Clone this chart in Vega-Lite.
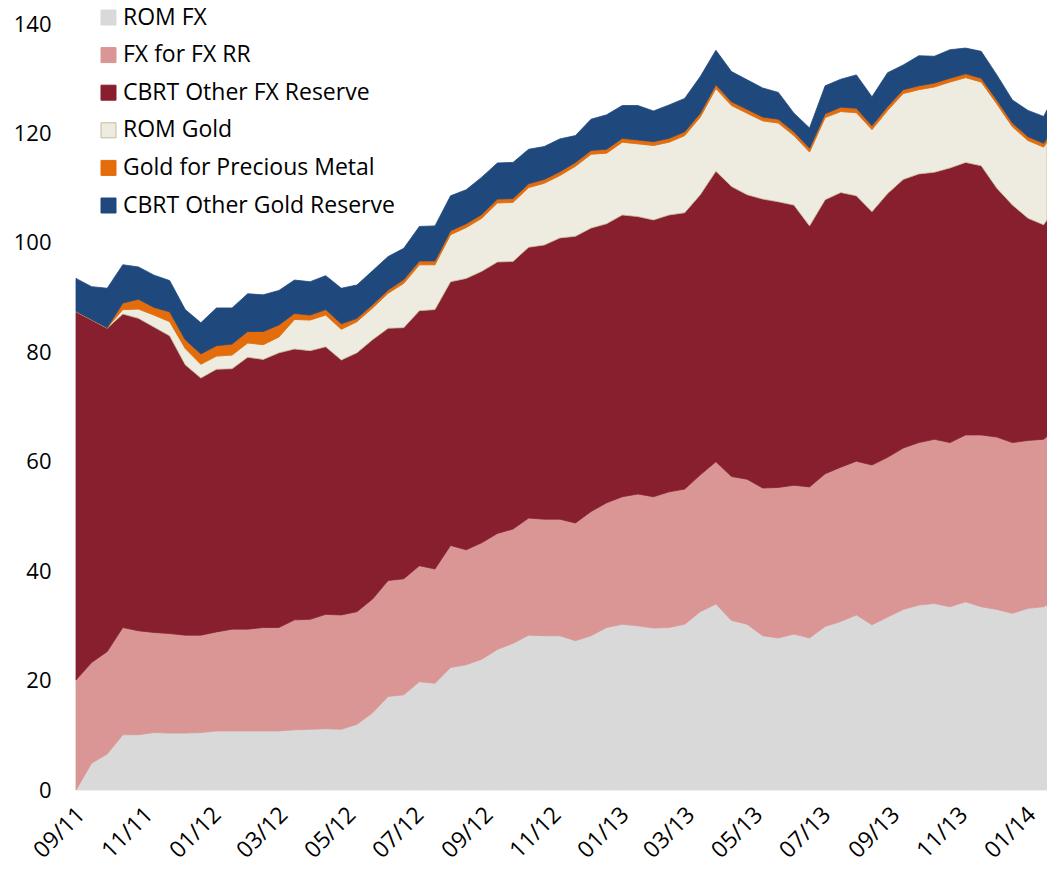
{
"$schema": "https://vega.github.io/schema/vega-lite/v6.json",
"width": 971, "height": 766,
"autosize": {"type": "none"},
"padding": {"left": 76, "top": 24, "right": 0, "bottom": 82},
"background": "white",
"config": {"view": {"stroke": null}, "font": "Open Sans",
 "legend": {"orient": "none", "legendX": 21, "legendY": -18, "title": null, "symbolType": "square", "symbolSize": 225, "labelFont": "Open Sans", "labelFontSize": 23, "labelColor": "#000000", "labelLimit": 0, "rowPadding": 13.6, "labelOffset": 3, "padding": 0, "symbolStrokeWidth": 1, "symbolOpacity": 1}},
"datasets": {"r": [
{"d":"2011-09-01","s":"ROM FX","k":0,"v":0},{"d":"2011-09-01","s":"FX for FX RR","k":1,"v":20.1},{"d":"2011-09-01","s":"CBRT Other FX Reserve","k":2,"v":67.3},{"d":"2011-09-01","s":"ROM Gold","k":3,"v":0.1},{"d":"2011-09-01","s":"Gold for Precious Metal","k":4,"v":0},{"d":"2011-09-01","s":"CBRT Other Gold Reserve","k":5,"v":6.0},
{"d":"2011-09-15","s":"ROM FX","k":0,"v":4.9},{"d":"2011-09-15","s":"FX for FX RR","k":1,"v":18.4},{"d":"2011-09-15","s":"CBRT Other FX Reserve","k":2,"v":62.6},{"d":"2011-09-15","s":"ROM Gold","k":3,"v":0.1},{"d":"2011-09-15","s":"Gold for Precious Metal","k":4,"v":0},{"d":"2011-09-15","s":"CBRT Other Gold Reserve","k":5,"v":6.0},
{"d":"2011-09-29","s":"ROM FX","k":0,"v":6.6},{"d":"2011-09-29","s":"FX for FX RR","k":1,"v":18.7},{"d":"2011-09-29","s":"CBRT Other FX Reserve","k":2,"v":59.1},{"d":"2011-09-29","s":"ROM Gold","k":3,"v":0.1},{"d":"2011-09-29","s":"Gold for Precious Metal","k":4,"v":0},{"d":"2011-09-29","s":"CBRT Other Gold Reserve","k":5,"v":7.2},
{"d":"2011-10-13","s":"ROM FX","k":0,"v":10.1},{"d":"2011-10-13","s":"FX for FX RR","k":1,"v":19.6},{"d":"2011-10-13","s":"CBRT Other FX Reserve","k":2,"v":57.3},{"d":"2011-10-13","s":"ROM Gold","k":3,"v":0.8},{"d":"2011-10-13","s":"Gold for Precious Metal","k":4,"v":1.2},{"d":"2011-10-13","s":"CBRT Other Gold Reserve","k":5,"v":7.0},
{"d":"2011-10-27","s":"ROM FX","k":0,"v":10.1},{"d":"2011-10-27","s":"FX for FX RR","k":1,"v":19.0},{"d":"2011-10-27","s":"CBRT Other FX Reserve","k":2,"v":57.1},{"d":"2011-10-27","s":"ROM Gold","k":3,"v":1.7},{"d":"2011-10-27","s":"Gold for Precious Metal","k":4,"v":1.8},{"d":"2011-10-27","s":"CBRT Other Gold Reserve","k":5,"v":5.9},
{"d":"2011-11-10","s":"ROM FX","k":0,"v":10.5},{"d":"2011-11-10","s":"FX for FX RR","k":1,"v":18.3},{"d":"2011-11-10","s":"CBRT Other FX Reserve","k":2,"v":55.8},{"d":"2011-11-10","s":"ROM Gold","k":3,"v":2.2},{"d":"2011-11-10","s":"Gold for Precious Metal","k":4,"v":1.4},{"d":"2011-11-10","s":"CBRT Other Gold Reserve","k":5,"v":5.9},
{"d":"2011-11-24","s":"ROM FX","k":0,"v":10.4},{"d":"2011-11-24","s":"FX for FX RR","k":1,"v":18.2},{"d":"2011-11-24","s":"CBRT Other FX Reserve","k":2,"v":54.4},{"d":"2011-11-24","s":"ROM Gold","k":3,"v":2.6},{"d":"2011-11-24","s":"Gold for Precious Metal","k":4,"v":1.8},{"d":"2011-11-24","s":"CBRT Other Gold Reserve","k":5,"v":5.7},
{"d":"2011-12-08","s":"ROM FX","k":0,"v":10.4},{"d":"2011-12-08","s":"FX for FX RR","k":1,"v":17.9},{"d":"2011-12-08","s":"CBRT Other FX Reserve","k":2,"v":49.4},{"d":"2011-12-08","s":"ROM Gold","k":3,"v":3.0},{"d":"2011-12-08","s":"Gold for Precious Metal","k":4,"v":1.6},{"d":"2011-12-08","s":"CBRT Other Gold Reserve","k":5,"v":5.5},
{"d":"2011-12-22","s":"ROM FX","k":0,"v":10.5},{"d":"2011-12-22","s":"FX for FX RR","k":1,"v":17.8},{"d":"2011-12-22","s":"CBRT Other FX Reserve","k":2,"v":47.0},{"d":"2011-12-22","s":"ROM Gold","k":3,"v":2.5},{"d":"2011-12-22","s":"Gold for Precious Metal","k":4,"v":1.9},{"d":"2011-12-22","s":"CBRT Other Gold Reserve","k":5,"v":5.7},
{"d":"2012-01-05","s":"ROM FX","k":0,"v":10.8},{"d":"2012-01-05","s":"FX for FX RR","k":1,"v":18.1},{"d":"2012-01-05","s":"CBRT Other FX Reserve","k":2,"v":48.0},{"d":"2012-01-05","s":"ROM Gold","k":3,"v":2.4},{"d":"2012-01-05","s":"Gold for Precious Metal","k":4,"v":1.9},{"d":"2012-01-05","s":"CBRT Other Gold Reserve","k":5,"v":6.9},
{"d":"2012-01-19","s":"ROM FX","k":0,"v":10.8},{"d":"2012-01-19","s":"FX for FX RR","k":1,"v":18.6},{"d":"2012-01-19","s":"CBRT Other FX Reserve","k":2,"v":47.6},{"d":"2012-01-19","s":"ROM Gold","k":3,"v":2.5},{"d":"2012-01-19","s":"Gold for Precious Metal","k":4,"v":2.0},{"d":"2012-01-19","s":"CBRT Other Gold Reserve","k":5,"v":6.6},
{"d":"2012-02-02","s":"ROM FX","k":0,"v":10.8},{"d":"2012-02-02","s":"FX for FX RR","k":1,"v":18.6},{"d":"2012-02-02","s":"CBRT Other FX Reserve","k":2,"v":49.7},{"d":"2012-02-02","s":"ROM Gold","k":3,"v":2.6},{"d":"2012-02-02","s":"Gold for Precious Metal","k":4,"v":2.1},{"d":"2012-02-02","s":"CBRT Other Gold Reserve","k":5,"v":6.9},
{"d":"2012-02-16","s":"ROM FX","k":0,"v":10.8},{"d":"2012-02-16","s":"FX for FX RR","k":1,"v":18.9},{"d":"2012-02-16","s":"CBRT Other FX Reserve","k":2,"v":49.0},{"d":"2012-02-16","s":"ROM Gold","k":3,"v":2.7},{"d":"2012-02-16","s":"Gold for Precious Metal","k":4,"v":2.4},{"d":"2012-02-16","s":"CBRT Other Gold Reserve","k":5,"v":6.7},
{"d":"2012-03-01","s":"ROM FX","k":0,"v":10.8},{"d":"2012-03-01","s":"FX for FX RR","k":1,"v":18.9},{"d":"2012-03-01","s":"CBRT Other FX Reserve","k":2,"v":50.2},{"d":"2012-03-01","s":"ROM Gold","k":3,"v":2.9},{"d":"2012-03-01","s":"Gold for Precious Metal","k":4,"v":2.2},{"d":"2012-03-01","s":"CBRT Other Gold Reserve","k":5,"v":6.3},
{"d":"2012-03-15","s":"ROM FX","k":0,"v":11.0},{"d":"2012-03-15","s":"FX for FX RR","k":1,"v":20.1},{"d":"2012-03-15","s":"CBRT Other FX Reserve","k":2,"v":49.5},{"d":"2012-03-15","s":"ROM Gold","k":3,"v":5.4},{"d":"2012-03-15","s":"Gold for Precious Metal","k":4,"v":1.1},{"d":"2012-03-15","s":"CBRT Other Gold Reserve","k":5,"v":6.1},
{"d":"2012-03-29","s":"ROM FX","k":0,"v":11.1},{"d":"2012-03-29","s":"FX for FX RR","k":1,"v":20.1},{"d":"2012-03-29","s":"CBRT Other FX Reserve","k":2,"v":49.1},{"d":"2012-03-29","s":"ROM Gold","k":3,"v":5.6},{"d":"2012-03-29","s":"Gold for Precious Metal","k":4,"v":0.9},{"d":"2012-03-29","s":"CBRT Other Gold Reserve","k":5,"v":6.1},
{"d":"2012-04-12","s":"ROM FX","k":0,"v":11.2},{"d":"2012-04-12","s":"FX for FX RR","k":1,"v":20.9},{"d":"2012-04-12","s":"CBRT Other FX Reserve","k":2,"v":48.9},{"d":"2012-04-12","s":"ROM Gold","k":3,"v":5.8},{"d":"2012-04-12","s":"Gold for Precious Metal","k":4,"v":1.0},{"d":"2012-04-12","s":"CBRT Other Gold Reserve","k":5,"v":6.2},
{"d":"2012-04-26","s":"ROM FX","k":0,"v":11.1},{"d":"2012-04-26","s":"FX for FX RR","k":1,"v":20.9},{"d":"2012-04-26","s":"CBRT Other FX Reserve","k":2,"v":46.6},{"d":"2012-04-26","s":"ROM Gold","k":3,"v":5.6},{"d":"2012-04-26","s":"Gold for Precious Metal","k":4,"v":1.0},{"d":"2012-04-26","s":"CBRT Other Gold Reserve","k":5,"v":6.5},
{"d":"2012-05-10","s":"ROM FX","k":0,"v":12.0},{"d":"2012-05-10","s":"FX for FX RR","k":1,"v":20.6},{"d":"2012-05-10","s":"CBRT Other FX Reserve","k":2,"v":47.3},{"d":"2012-05-10","s":"ROM Gold","k":3,"v":5.7},{"d":"2012-05-10","s":"Gold for Precious Metal","k":4,"v":0.6},{"d":"2012-05-10","s":"CBRT Other Gold Reserve","k":5,"v":6.1},
{"d":"2012-05-24","s":"ROM FX","k":0,"v":14.1},{"d":"2012-05-24","s":"FX for FX RR","k":1,"v":20.8},{"d":"2012-05-24","s":"CBRT Other FX Reserve","k":2,"v":47.4},{"d":"2012-05-24","s":"ROM Gold","k":3,"v":5.8},{"d":"2012-05-24","s":"Gold for Precious Metal","k":4,"v":0.6},{"d":"2012-05-24","s":"CBRT Other Gold Reserve","k":5,"v":6.2},
{"d":"2012-06-07","s":"ROM FX","k":0,"v":17.1},{"d":"2012-06-07","s":"FX for FX RR","k":1,"v":21.2},{"d":"2012-06-07","s":"CBRT Other FX Reserve","k":2,"v":46.1},{"d":"2012-06-07","s":"ROM Gold","k":3,"v":6.4},{"d":"2012-06-07","s":"Gold for Precious Metal","k":4,"v":0.6},{"d":"2012-06-07","s":"CBRT Other Gold Reserve","k":5,"v":6.1},
{"d":"2012-06-21","s":"ROM FX","k":0,"v":17.4},{"d":"2012-06-21","s":"FX for FX RR","k":1,"v":21.2},{"d":"2012-06-21","s":"CBRT Other FX Reserve","k":2,"v":45.9},{"d":"2012-06-21","s":"ROM Gold","k":3,"v":8.1},{"d":"2012-06-21","s":"Gold for Precious Metal","k":4,"v":0.7},{"d":"2012-06-21","s":"CBRT Other Gold Reserve","k":5,"v":5.7},
{"d":"2012-07-05","s":"ROM FX","k":0,"v":19.8},{"d":"2012-07-05","s":"FX for FX RR","k":1,"v":21.2},{"d":"2012-07-05","s":"CBRT Other FX Reserve","k":2,"v":46.6},{"d":"2012-07-05","s":"ROM Gold","k":3,"v":8.4},{"d":"2012-07-05","s":"Gold for Precious Metal","k":4,"v":0.7},{"d":"2012-07-05","s":"CBRT Other Gold Reserve","k":5,"v":6.3},
{"d":"2012-07-19","s":"ROM FX","k":0,"v":19.5},{"d":"2012-07-19","s":"FX for FX RR","k":1,"v":20.9},{"d":"2012-07-19","s":"CBRT Other FX Reserve","k":2,"v":47.4},{"d":"2012-07-19","s":"ROM Gold","k":3,"v":8.2},{"d":"2012-07-19","s":"Gold for Precious Metal","k":4,"v":0.7},{"d":"2012-07-19","s":"CBRT Other Gold Reserve","k":5,"v":6.4},
{"d":"2012-08-02","s":"ROM FX","k":0,"v":22.4},{"d":"2012-08-02","s":"FX for FX RR","k":1,"v":22.3},{"d":"2012-08-02","s":"CBRT Other FX Reserve","k":2,"v":48.2},{"d":"2012-08-02","s":"ROM Gold","k":3,"v":8.6},{"d":"2012-08-02","s":"Gold for Precious Metal","k":4,"v":0.7},{"d":"2012-08-02","s":"CBRT Other Gold Reserve","k":5,"v":6.4},
{"d":"2012-08-16","s":"ROM FX","k":0,"v":22.9},{"d":"2012-08-16","s":"FX for FX RR","k":1,"v":21.0},{"d":"2012-08-16","s":"CBRT Other FX Reserve","k":2,"v":49.6},{"d":"2012-08-16","s":"ROM Gold","k":3,"v":9.3},{"d":"2012-08-16","s":"Gold for Precious Metal","k":4,"v":0.7},{"d":"2012-08-16","s":"CBRT Other Gold Reserve","k":5,"v":6.2},
{"d":"2012-08-30","s":"ROM FX","k":0,"v":23.9},{"d":"2012-08-30","s":"FX for FX RR","k":1,"v":21.3},{"d":"2012-08-30","s":"CBRT Other FX Reserve","k":2,"v":49.6},{"d":"2012-08-30","s":"ROM Gold","k":3,"v":9.7},{"d":"2012-08-30","s":"Gold for Precious Metal","k":4,"v":0.7},{"d":"2012-08-30","s":"CBRT Other Gold Reserve","k":5,"v":6.8},
{"d":"2012-09-13","s":"ROM FX","k":0,"v":25.7},{"d":"2012-09-13","s":"FX for FX RR","k":1,"v":21.2},{"d":"2012-09-13","s":"CBRT Other FX Reserve","k":2,"v":49.6},{"d":"2012-09-13","s":"ROM Gold","k":3,"v":10.8},{"d":"2012-09-13","s":"Gold for Precious Metal","k":4,"v":0.7},{"d":"2012-09-13","s":"CBRT Other Gold Reserve","k":5,"v":6.6},
{"d":"2012-09-27","s":"ROM FX","k":0,"v":26.8},{"d":"2012-09-27","s":"FX for FX RR","k":1,"v":20.9},{"d":"2012-09-27","s":"CBRT Other FX Reserve","k":2,"v":48.9},{"d":"2012-09-27","s":"ROM Gold","k":3,"v":10.8},{"d":"2012-09-27","s":"Gold for Precious Metal","k":4,"v":0.7},{"d":"2012-09-27","s":"CBRT Other Gold Reserve","k":5,"v":6.6},
{"d":"2012-10-11","s":"ROM FX","k":0,"v":28.3},{"d":"2012-10-11","s":"FX for FX RR","k":1,"v":21.4},{"d":"2012-10-11","s":"CBRT Other FX Reserve","k":2,"v":49.5},{"d":"2012-10-11","s":"ROM Gold","k":3,"v":10.9},{"d":"2012-10-11","s":"Gold for Precious Metal","k":4,"v":0.7},{"d":"2012-10-11","s":"CBRT Other Gold Reserve","k":5,"v":6.3},
{"d":"2012-10-25","s":"ROM FX","k":0,"v":28.2},{"d":"2012-10-25","s":"FX for FX RR","k":1,"v":21.3},{"d":"2012-10-25","s":"CBRT Other FX Reserve","k":2,"v":50.1},{"d":"2012-10-25","s":"ROM Gold","k":3,"v":11.3},{"d":"2012-10-25","s":"Gold for Precious Metal","k":4,"v":0.7},{"d":"2012-10-25","s":"CBRT Other Gold Reserve","k":5,"v":6.0},
{"d":"2012-11-08","s":"ROM FX","k":0,"v":28.2},{"d":"2012-11-08","s":"FX for FX RR","k":1,"v":21.3},{"d":"2012-11-08","s":"CBRT Other FX Reserve","k":2,"v":51.4},{"d":"2012-11-08","s":"ROM Gold","k":3,"v":11.4},{"d":"2012-11-08","s":"Gold for Precious Metal","k":4,"v":0.7},{"d":"2012-11-08","s":"CBRT Other Gold Reserve","k":5,"v":6.0},
{"d":"2012-11-22","s":"ROM FX","k":0,"v":27.3},{"d":"2012-11-22","s":"FX for FX RR","k":1,"v":21.5},{"d":"2012-11-22","s":"CBRT Other FX Reserve","k":2,"v":52.4},{"d":"2012-11-22","s":"ROM Gold","k":3,"v":12.8},{"d":"2012-11-22","s":"Gold for Precious Metal","k":4,"v":0.7},{"d":"2012-11-22","s":"CBRT Other Gold Reserve","k":5,"v":4.9},
{"d":"2012-12-06","s":"ROM FX","k":0,"v":28.2},{"d":"2012-12-06","s":"FX for FX RR","k":1,"v":22.7},{"d":"2012-12-06","s":"CBRT Other FX Reserve","k":2,"v":51.8},{"d":"2012-12-06","s":"ROM Gold","k":3,"v":13.5},{"d":"2012-12-06","s":"Gold for Precious Metal","k":4,"v":0.7},{"d":"2012-12-06","s":"CBRT Other Gold Reserve","k":5,"v":5.7},
{"d":"2012-12-20","s":"ROM FX","k":0,"v":29.7},{"d":"2012-12-20","s":"FX for FX RR","k":1,"v":22.8},{"d":"2012-12-20","s":"CBRT Other FX Reserve","k":2,"v":51.0},{"d":"2012-12-20","s":"ROM Gold","k":3,"v":12.9},{"d":"2012-12-20","s":"Gold for Precious Metal","k":4,"v":0.7},{"d":"2012-12-20","s":"CBRT Other Gold Reserve","k":5,"v":6.3},
{"d":"2013-01-03","s":"ROM FX","k":0,"v":30.3},{"d":"2013-01-03","s":"FX for FX RR","k":1,"v":23.3},{"d":"2013-01-03","s":"CBRT Other FX Reserve","k":2,"v":51.5},{"d":"2013-01-03","s":"ROM Gold","k":3,"v":13.3},{"d":"2013-01-03","s":"Gold for Precious Metal","k":4,"v":0.7},{"d":"2013-01-03","s":"CBRT Other Gold Reserve","k":5,"v":6.0},
{"d":"2013-01-17","s":"ROM FX","k":0,"v":30.0},{"d":"2013-01-17","s":"FX for FX RR","k":1,"v":24.1},{"d":"2013-01-17","s":"CBRT Other FX Reserve","k":2,"v":50.7},{"d":"2013-01-17","s":"ROM Gold","k":3,"v":13.3},{"d":"2013-01-17","s":"Gold for Precious Metal","k":4,"v":0.7},{"d":"2013-01-17","s":"CBRT Other Gold Reserve","k":5,"v":6.3},
{"d":"2013-01-31","s":"ROM FX","k":0,"v":29.6},{"d":"2013-01-31","s":"FX for FX RR","k":1,"v":24.0},{"d":"2013-01-31","s":"CBRT Other FX Reserve","k":2,"v":50.6},{"d":"2013-01-31","s":"ROM Gold","k":3,"v":13.6},{"d":"2013-01-31","s":"Gold for Precious Metal","k":4,"v":0.7},{"d":"2013-01-31","s":"CBRT Other Gold Reserve","k":5,"v":5.6},
{"d":"2013-02-14","s":"ROM FX","k":0,"v":29.7},{"d":"2013-02-14","s":"FX for FX RR","k":1,"v":24.8},{"d":"2013-02-14","s":"CBRT Other FX Reserve","k":2,"v":50.6},{"d":"2013-02-14","s":"ROM Gold","k":3,"v":13.3},{"d":"2013-02-14","s":"Gold for Precious Metal","k":4,"v":0.7},{"d":"2013-02-14","s":"CBRT Other Gold Reserve","k":5,"v":6.1},
{"d":"2013-02-28","s":"ROM FX","k":0,"v":30.3},{"d":"2013-02-28","s":"FX for FX RR","k":1,"v":24.7},{"d":"2013-02-28","s":"CBRT Other FX Reserve","k":2,"v":50.5},{"d":"2013-02-28","s":"ROM Gold","k":3,"v":14.1},{"d":"2013-02-28","s":"Gold for Precious Metal","k":4,"v":0.7},{"d":"2013-02-28","s":"CBRT Other Gold Reserve","k":5,"v":6.1},
{"d":"2013-03-14","s":"ROM FX","k":0,"v":32.6},{"d":"2013-03-14","s":"FX for FX RR","k":1,"v":25.0},{"d":"2013-03-14","s":"CBRT Other FX Reserve","k":2,"v":51.2},{"d":"2013-03-14","s":"ROM Gold","k":3,"v":14.2},{"d":"2013-03-14","s":"Gold for Precious Metal","k":4,"v":0.7},{"d":"2013-03-14","s":"CBRT Other Gold Reserve","k":5,"v":6.7},
{"d":"2013-03-28","s":"ROM FX","k":0,"v":34.0},{"d":"2013-03-28","s":"FX for FX RR","k":1,"v":26.0},{"d":"2013-03-28","s":"CBRT Other FX Reserve","k":2,"v":53.1},{"d":"2013-03-28","s":"ROM Gold","k":3,"v":15.1},{"d":"2013-03-28","s":"Gold for Precious Metal","k":4,"v":0.7},{"d":"2013-03-28","s":"CBRT Other Gold Reserve","k":5,"v":6.3},
{"d":"2013-04-11","s":"ROM FX","k":0,"v":31.0},{"d":"2013-04-11","s":"FX for FX RR","k":1,"v":26.3},{"d":"2013-04-11","s":"CBRT Other FX Reserve","k":2,"v":53.0},{"d":"2013-04-11","s":"ROM Gold","k":3,"v":14.8},{"d":"2013-04-11","s":"Gold for Precious Metal","k":4,"v":0.7},{"d":"2013-04-11","s":"CBRT Other Gold Reserve","k":5,"v":5.5},
{"d":"2013-04-25","s":"ROM FX","k":0,"v":30.3},{"d":"2013-04-25","s":"FX for FX RR","k":1,"v":26.5},{"d":"2013-04-25","s":"CBRT Other FX Reserve","k":2,"v":52.0},{"d":"2013-04-25","s":"ROM Gold","k":3,"v":14.9},{"d":"2013-04-25","s":"Gold for Precious Metal","k":4,"v":0.7},{"d":"2013-04-25","s":"CBRT Other Gold Reserve","k":5,"v":5.4},
{"d":"2013-05-09","s":"ROM FX","k":0,"v":28.2},{"d":"2013-05-09","s":"FX for FX RR","k":1,"v":27.0},{"d":"2013-05-09","s":"CBRT Other FX Reserve","k":2,"v":52.8},{"d":"2013-05-09","s":"ROM Gold","k":3,"v":14.3},{"d":"2013-05-09","s":"Gold for Precious Metal","k":4,"v":0.7},{"d":"2013-05-09","s":"CBRT Other Gold Reserve","k":5,"v":5.3},
{"d":"2013-05-23","s":"ROM FX","k":0,"v":27.8},{"d":"2013-05-23","s":"FX for FX RR","k":1,"v":27.5},{"d":"2013-05-23","s":"CBRT Other FX Reserve","k":2,"v":52.2},{"d":"2013-05-23","s":"ROM Gold","k":3,"v":14.4},{"d":"2013-05-23","s":"Gold for Precious Metal","k":4,"v":0.7},{"d":"2013-05-23","s":"CBRT Other Gold Reserve","k":5,"v":4.9},
{"d":"2013-06-06","s":"ROM FX","k":0,"v":28.5},{"d":"2013-06-06","s":"FX for FX RR","k":1,"v":27.2},{"d":"2013-06-06","s":"CBRT Other FX Reserve","k":2,"v":51.2},{"d":"2013-06-06","s":"ROM Gold","k":3,"v":12.7},{"d":"2013-06-06","s":"Gold for Precious Metal","k":4,"v":0.7},{"d":"2013-06-06","s":"CBRT Other Gold Reserve","k":5,"v":3.4},
{"d":"2013-06-20","s":"ROM FX","k":0,"v":27.8},{"d":"2013-06-20","s":"FX for FX RR","k":1,"v":27.6},{"d":"2013-06-20","s":"CBRT Other FX Reserve","k":2,"v":47.7},{"d":"2013-06-20","s":"ROM Gold","k":3,"v":13.5},{"d":"2013-06-20","s":"Gold for Precious Metal","k":4,"v":0.7},{"d":"2013-06-20","s":"CBRT Other Gold Reserve","k":5,"v":3.7},
{"d":"2013-07-04","s":"ROM FX","k":0,"v":29.9},{"d":"2013-07-04","s":"FX for FX RR","k":1,"v":27.9},{"d":"2013-07-04","s":"CBRT Other FX Reserve","k":2,"v":50.1},{"d":"2013-07-04","s":"ROM Gold","k":3,"v":15.0},{"d":"2013-07-04","s":"Gold for Precious Metal","k":4,"v":0.7},{"d":"2013-07-04","s":"CBRT Other Gold Reserve","k":5,"v":5.1},
{"d":"2013-07-18","s":"ROM FX","k":0,"v":30.8},{"d":"2013-07-18","s":"FX for FX RR","k":1,"v":28.2},{"d":"2013-07-18","s":"CBRT Other FX Reserve","k":2,"v":50.2},{"d":"2013-07-18","s":"ROM Gold","k":3,"v":14.8},{"d":"2013-07-18","s":"Gold for Precious Metal","k":4,"v":0.8},{"d":"2013-07-18","s":"CBRT Other Gold Reserve","k":5,"v":5.1},
{"d":"2013-08-01","s":"ROM FX","k":0,"v":32.0},{"d":"2013-08-01","s":"FX for FX RR","k":1,"v":28.1},{"d":"2013-08-01","s":"CBRT Other FX Reserve","k":2,"v":48.5},{"d":"2013-08-01","s":"ROM Gold","k":3,"v":15.2},{"d":"2013-08-01","s":"Gold for Precious Metal","k":4,"v":0.8},{"d":"2013-08-01","s":"CBRT Other Gold Reserve","k":5,"v":6.1},
{"d":"2013-08-15","s":"ROM FX","k":0,"v":30.2},{"d":"2013-08-15","s":"FX for FX RR","k":1,"v":29.2},{"d":"2013-08-15","s":"CBRT Other FX Reserve","k":2,"v":46.3},{"d":"2013-08-15","s":"ROM Gold","k":3,"v":15.0},{"d":"2013-08-15","s":"Gold for Precious Metal","k":4,"v":0.7},{"d":"2013-08-15","s":"CBRT Other Gold Reserve","k":5,"v":5.3},
{"d":"2013-08-29","s":"ROM FX","k":0,"v":31.6},{"d":"2013-08-29","s":"FX for FX RR","k":1,"v":29.2},{"d":"2013-08-29","s":"CBRT Other FX Reserve","k":2,"v":48.2},{"d":"2013-08-29","s":"ROM Gold","k":3,"v":15.2},{"d":"2013-08-29","s":"Gold for Precious Metal","k":4,"v":0.7},{"d":"2013-08-29","s":"CBRT Other Gold Reserve","k":5,"v":6.2},
{"d":"2013-09-12","s":"ROM FX","k":0,"v":33.0},{"d":"2013-09-12","s":"FX for FX RR","k":1,"v":29.5},{"d":"2013-09-12","s":"CBRT Other FX Reserve","k":2,"v":49.1},{"d":"2013-09-12","s":"ROM Gold","k":3,"v":15.7},{"d":"2013-09-12","s":"Gold for Precious Metal","k":4,"v":0.7},{"d":"2013-09-12","s":"CBRT Other Gold Reserve","k":5,"v":4.5},
{"d":"2013-09-26","s":"ROM FX","k":0,"v":33.8},{"d":"2013-09-26","s":"FX for FX RR","k":1,"v":29.7},{"d":"2013-09-26","s":"CBRT Other FX Reserve","k":2,"v":49.1},{"d":"2013-09-26","s":"ROM Gold","k":3,"v":15.4},{"d":"2013-09-26","s":"Gold for Precious Metal","k":4,"v":0.7},{"d":"2013-09-26","s":"CBRT Other Gold Reserve","k":5,"v":5.5},
{"d":"2013-10-10","s":"ROM FX","k":0,"v":34.1},{"d":"2013-10-10","s":"FX for FX RR","k":1,"v":30.0},{"d":"2013-10-10","s":"CBRT Other FX Reserve","k":2,"v":48.8},{"d":"2013-10-10","s":"ROM Gold","k":3,"v":15.6},{"d":"2013-10-10","s":"Gold for Precious Metal","k":4,"v":0.7},{"d":"2013-10-10","s":"CBRT Other Gold Reserve","k":5,"v":4.9},
{"d":"2013-10-24","s":"ROM FX","k":0,"v":33.5},{"d":"2013-10-24","s":"FX for FX RR","k":1,"v":30.0},{"d":"2013-10-24","s":"CBRT Other FX Reserve","k":2,"v":50.2},{"d":"2013-10-24","s":"ROM Gold","k":3,"v":15.7},{"d":"2013-10-24","s":"Gold for Precious Metal","k":4,"v":0.7},{"d":"2013-10-24","s":"CBRT Other Gold Reserve","k":5,"v":5.2},
{"d":"2013-11-07","s":"ROM FX","k":0,"v":34.4},{"d":"2013-11-07","s":"FX for FX RR","k":1,"v":30.5},{"d":"2013-11-07","s":"CBRT Other FX Reserve","k":2,"v":49.8},{"d":"2013-11-07","s":"ROM Gold","k":3,"v":15.5},{"d":"2013-11-07","s":"Gold for Precious Metal","k":4,"v":0.7},{"d":"2013-11-07","s":"CBRT Other Gold Reserve","k":5,"v":4.7},
{"d":"2013-11-21","s":"ROM FX","k":0,"v":33.5},{"d":"2013-11-21","s":"FX for FX RR","k":1,"v":31.4},{"d":"2013-11-21","s":"CBRT Other FX Reserve","k":2,"v":49.2},{"d":"2013-11-21","s":"ROM Gold","k":3,"v":15.3},{"d":"2013-11-21","s":"Gold for Precious Metal","k":4,"v":0.7},{"d":"2013-11-21","s":"CBRT Other Gold Reserve","k":5,"v":4.9},
{"d":"2013-12-05","s":"ROM FX","k":0,"v":33.0},{"d":"2013-12-05","s":"FX for FX RR","k":1,"v":31.5},{"d":"2013-12-05","s":"CBRT Other FX Reserve","k":2,"v":45.5},{"d":"2013-12-05","s":"ROM Gold","k":3,"v":15.4},{"d":"2013-12-05","s":"Gold for Precious Metal","k":4,"v":0.7},{"d":"2013-12-05","s":"CBRT Other Gold Reserve","k":5,"v":4.6},
{"d":"2013-12-19","s":"ROM FX","k":0,"v":32.3},{"d":"2013-12-19","s":"FX for FX RR","k":1,"v":31.2},{"d":"2013-12-19","s":"CBRT Other FX Reserve","k":2,"v":43.4},{"d":"2013-12-19","s":"ROM Gold","k":3,"v":14.3},{"d":"2013-12-19","s":"Gold for Precious Metal","k":4,"v":0.7},{"d":"2013-12-19","s":"CBRT Other Gold Reserve","k":5,"v":4.2},
{"d":"2014-01-02","s":"ROM FX","k":0,"v":33.2},{"d":"2014-01-02","s":"FX for FX RR","k":1,"v":30.7},{"d":"2014-01-02","s":"CBRT Other FX Reserve","k":2,"v":40.6},{"d":"2014-01-02","s":"ROM Gold","k":3,"v":14.2},{"d":"2014-01-02","s":"Gold for Precious Metal","k":4,"v":0.7},{"d":"2014-01-02","s":"CBRT Other Gold Reserve","k":5,"v":4.8},
{"d":"2014-01-16","s":"ROM FX","k":0,"v":33.5},{"d":"2014-01-16","s":"FX for FX RR","k":1,"v":30.6},{"d":"2014-01-16","s":"CBRT Other FX Reserve","k":2,"v":39.2},{"d":"2014-01-16","s":"ROM Gold","k":3,"v":14.2},{"d":"2014-01-16","s":"Gold for Precious Metal","k":4,"v":0.7},{"d":"2014-01-16","s":"CBRT Other Gold Reserve","k":5,"v":4.9},
{"d":"2014-01-19","s":"ROM FX","k":0,"v":33.8},{"d":"2014-01-19","s":"FX for FX RR","k":1,"v":30.8},{"d":"2014-01-19","s":"CBRT Other FX Reserve","k":2,"v":39.6},{"d":"2014-01-19","s":"ROM Gold","k":3,"v":14.2},{"d":"2014-01-19","s":"Gold for Precious Metal","k":4,"v":0.7},{"d":"2014-01-19","s":"CBRT Other Gold Reserve","k":5,"v":5.2}
]},
"data": {"name": "r"},
"mark": {"type": "area", "strokeWidth": 0.8, "opacity": 1},
"encoding": {
 "x": {"field": "d", "type": "temporal",
  "scale": {"domain": [{"year": 2011, "month": 9, "date": 1}, {"year": 2014, "month": 1, "date": 19}]},
  "axis": {"title": null, "values": [{"year": 2011, "month": 9, "date": 1}, {"year": 2011, "month": 11, "date": 1}, {"year": 2012, "month": 1, "date": 1}, {"year": 2012, "month": 3, "date": 1}, {"year": 2012, "month": 5, "date": 1}, {"year": 2012, "month": 7, "date": 1}, {"year": 2012, "month": 9, "date": 1}, {"year": 2012, "month": 11, "date": 1}, {"year": 2013, "month": 1, "date": 1}, {"year": 2013, "month": 3, "date": 1}, {"year": 2013, "month": 5, "date": 1}, {"year": 2013, "month": 7, "date": 1}, {"year": 2013, "month": 9, "date": 1}, {"year": 2013, "month": 11, "date": 1}, {"year": 2014, "month": 1, "date": 1}],
   "format": "%m/%y", "labelAngle": -45, "labelAlign": "right", "labelBaseline": "top", "labelPadding": 13, "labelOffset": -3, "ticks": false, "tickSize": 0, "domain": false, "grid": false, "labelFlush": false, "labelOverlap": false, "labelBound": false, "labelFont": "Open Sans", "labelFontSize": 23, "labelColor": "#000000"}},
 "y": {"field": "v", "type": "quantitative", "stack": "zero",
  "scale": {"domain": [0, 140], "nice": false},
  "axis": {"title": null, "values": [0, 20, 40, 60, 80, 100, 120, 140], "ticks": false, "tickSize": 0, "domain": false, "grid": false, "labelPadding": 25, "labelFont": "Open Sans", "labelFontSize": 22, "labelColor": "#000000"}},
 "color": {"field": "s", "type": "nominal",
  "scale": {"domain": ["ROM FX", "FX for FX RR", "CBRT Other FX Reserve", "ROM Gold", "Gold for Precious Metal", "CBRT Other Gold Reserve"], "range": ["#D9D9D9", "#D99694", "#871F2E", "#EEECE1", "#E46C0A", "#1F497D"]},
  "legend": {"title": null}},
 "stroke": {"field": "s", "type": "nominal",
  "scale": {"domain": ["ROM FX", "FX for FX RR", "CBRT Other FX Reserve", "ROM Gold", "Gold for Precious Metal", "CBRT Other Gold Reserve"], "range": ["#D9D9D9", "#D99694", "#871F2E", "#C4BD97", "#E46C0A", "#1F497D"]},
  "legend": {"title": null}},
 "order": {"field": "k", "type": "quantitative"}
}
}
